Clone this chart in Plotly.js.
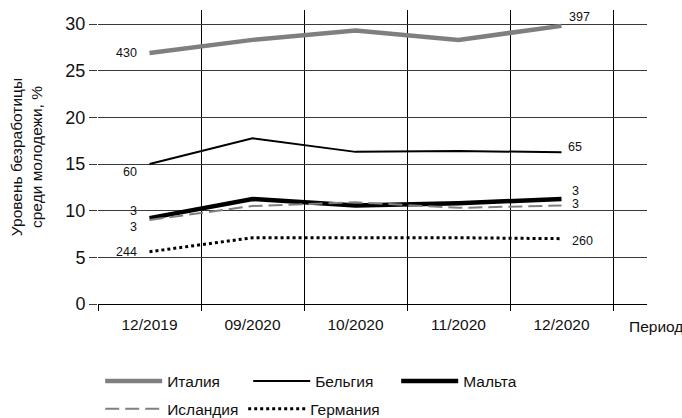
<!DOCTYPE html>
<html>
<head>
<meta charset="utf-8">
<script src="https://cdn.plot.ly/plotly-3.0.1.min.js"></script>
<style>
  html, body { margin: 0; padding: 0; background: #fff; }
  #chart { width: 682px; height: 418px; }
</style>
</head>
<body>
<div id="chart"></div>
<script>
// ---- data ----
const categories = ['12/2019', '09/2020', '10/2020', '11/2020', '12/2020'];
const seriesNames = ['Италия', 'Бельгия', 'Мальта', 'Исландия', 'Германия'];
const italy   = [26.9, 28.3, 29.3, 28.3, 29.8];
const belgium = [15.0, 17.75, 16.3, 16.4, 16.25];
const malta   = [9.2, 11.25, 10.55, 10.8, 11.25];
const iceland = [9.0, 10.5, 10.9, 10.3, 10.55];
const germany = [5.6, 7.1, 7.1, 7.1, 7.0];
const startLabels = ['430', '60', '3', '3', '244'];
const endLabels   = ['397', '65', '3', '3', '260'];
const yTicks = [0, 5, 10, 15, 20, 25, 30];
const xAxisName = 'Период';
const yAxisName = 'Уровень безработицы<br>среди молодежи, %';

// ---- styling ----
const FONT = '"Liberation Sans", Arial, sans-serif';
const TXT = '#111';
const values = [italy, belgium, malta, iceland, germany];
const styles = [
  {color: '#7f7f7f', width: 4.5, dash: 'solid', legend: 'legend'},
  {color: '#000000', width: 2, dash: 'solid', legend: 'legend'},
  {color: '#000000', width: 4.5, dash: 'solid', legend: 'legend'},
  {color: '#808080', width: 2, dash: '14px,6px', legend: 'legend2'},
  {color: '#000000', width: 3, dash: '3px,3px', legend: 'legend2'}
];
// label offsets (px): [start xshift, start yshift, end xshift, end yshift]
const labelOffsets = [
  [-11, 0, 5, 9],
  [-11, -8, 4, 5.5],
  [-11, 7, 8, 8.5],
  [-11, -7, 8, 1.5],
  [-11, 0, 8, -2]
];

const xIdx = categories.map((_, i) => i);
const traces = values.map((v, k) => ({
  type: 'scatter',
  mode: 'lines',
  x: xIdx,
  y: v,
  name: seriesNames[k],
  legend: styles[k].legend,
  line: {color: styles[k].color, width: styles[k].width, dash: styles[k].dash},
  hoverinfo: 'skip'
}));

const last = categories.length - 1;
const annotations = [];
values.forEach((v, k) => {
  const o = labelOffsets[k];
  annotations.push({
    x: 0, y: v[0], xref: 'x', yref: 'y', text: startLabels[k], showarrow: false,
    xanchor: 'right', yanchor: 'middle', xshift: o[0], yshift: o[1],
    font: {family: FONT, size: 12.5, color: TXT}
  });
  annotations.push({
    x: last, y: v[last], xref: 'x', yref: 'y', text: endLabels[k], showarrow: false,
    xanchor: 'left', yanchor: 'middle', xshift: o[2], yshift: o[3],
    font: {family: FONT, size: 12.5, color: TXT}
  });
});
annotations.push({
  x: 1.0, y: 0, xref: 'paper', yref: 'paper', text: xAxisName, showarrow: false,
  xanchor: 'left', yanchor: 'top', xshift: -20, yshift: -12,
  font: {family: FONT, size: 15.5, color: TXT}
});

const layout = {
  width: 682,
  height: 418,
  margin: {l: 98, r: 35, t: 10, b: 113.5, autoexpand: false},
  paper_bgcolor: '#fff',
  plot_bgcolor: '#fff',
  font: {family: FONT, color: TXT},
  xaxis: {
    range: [-0.5, 4.83],
    tickmode: 'array',
    tickvals: xIdx,
    ticktext: categories,
    showgrid: false,
    zeroline: false,
    showline: true,
    linecolor: '#000',
    linewidth: 1,
    ticks: 'outside',
    ticklen: 6,
    tickcolor: 'rgba(0,0,0,0)',
    tickfont: {family: FONT, size: 15.5, color: TXT},
    minor: {
      tick0: -0.5, dtick: 1, showgrid: true, gridcolor: '#000', gridwidth: 1,
      ticks: 'outside', ticklen: 6, tickcolor: '#000', tickwidth: 1
    },
    fixedrange: true
  },
  yaxis: {
    range: [0, 31.5],
    tickmode: 'array',
    tickvals: yTicks,
    showgrid: true,
    gridcolor: '#3a3a3a',
    gridwidth: 1,
    zeroline: false,
    showline: false,
    ticks: 'outside',
    ticklen: 8,
    tickcolor: '#3a3a3a',
    tickfont: {family: FONT, size: 18, color: TXT},
    title: {text: yAxisName, font: {family: FONT, size: 15.5, color: TXT}, standoff: 18},
    fixedrange: true
  },
  showlegend: true,
  legend: {
    orientation: 'h', x: 0.004, xanchor: 'left', y: -0.263, yanchor: 'middle',
    itemwidth: 57, entrywidth: 76, traceorder: 'normal',
    font: {family: FONT, size: 15.5, color: TXT}, bgcolor: 'rgba(0,0,0,0)'
  },
  legend2: {
    orientation: 'h', x: 0.004, xanchor: 'left', y: -0.358, yanchor: 'middle',
    itemwidth: 57, entrywidth: 71, traceorder: 'normal',
    font: {family: FONT, size: 15.5, color: TXT}, bgcolor: 'rgba(0,0,0,0)'
  },
  annotations: annotations
};

Plotly.newPlot('chart', traces, layout, {displayModeBar: false, staticPlot: true});
</script>
</body>
</html>
